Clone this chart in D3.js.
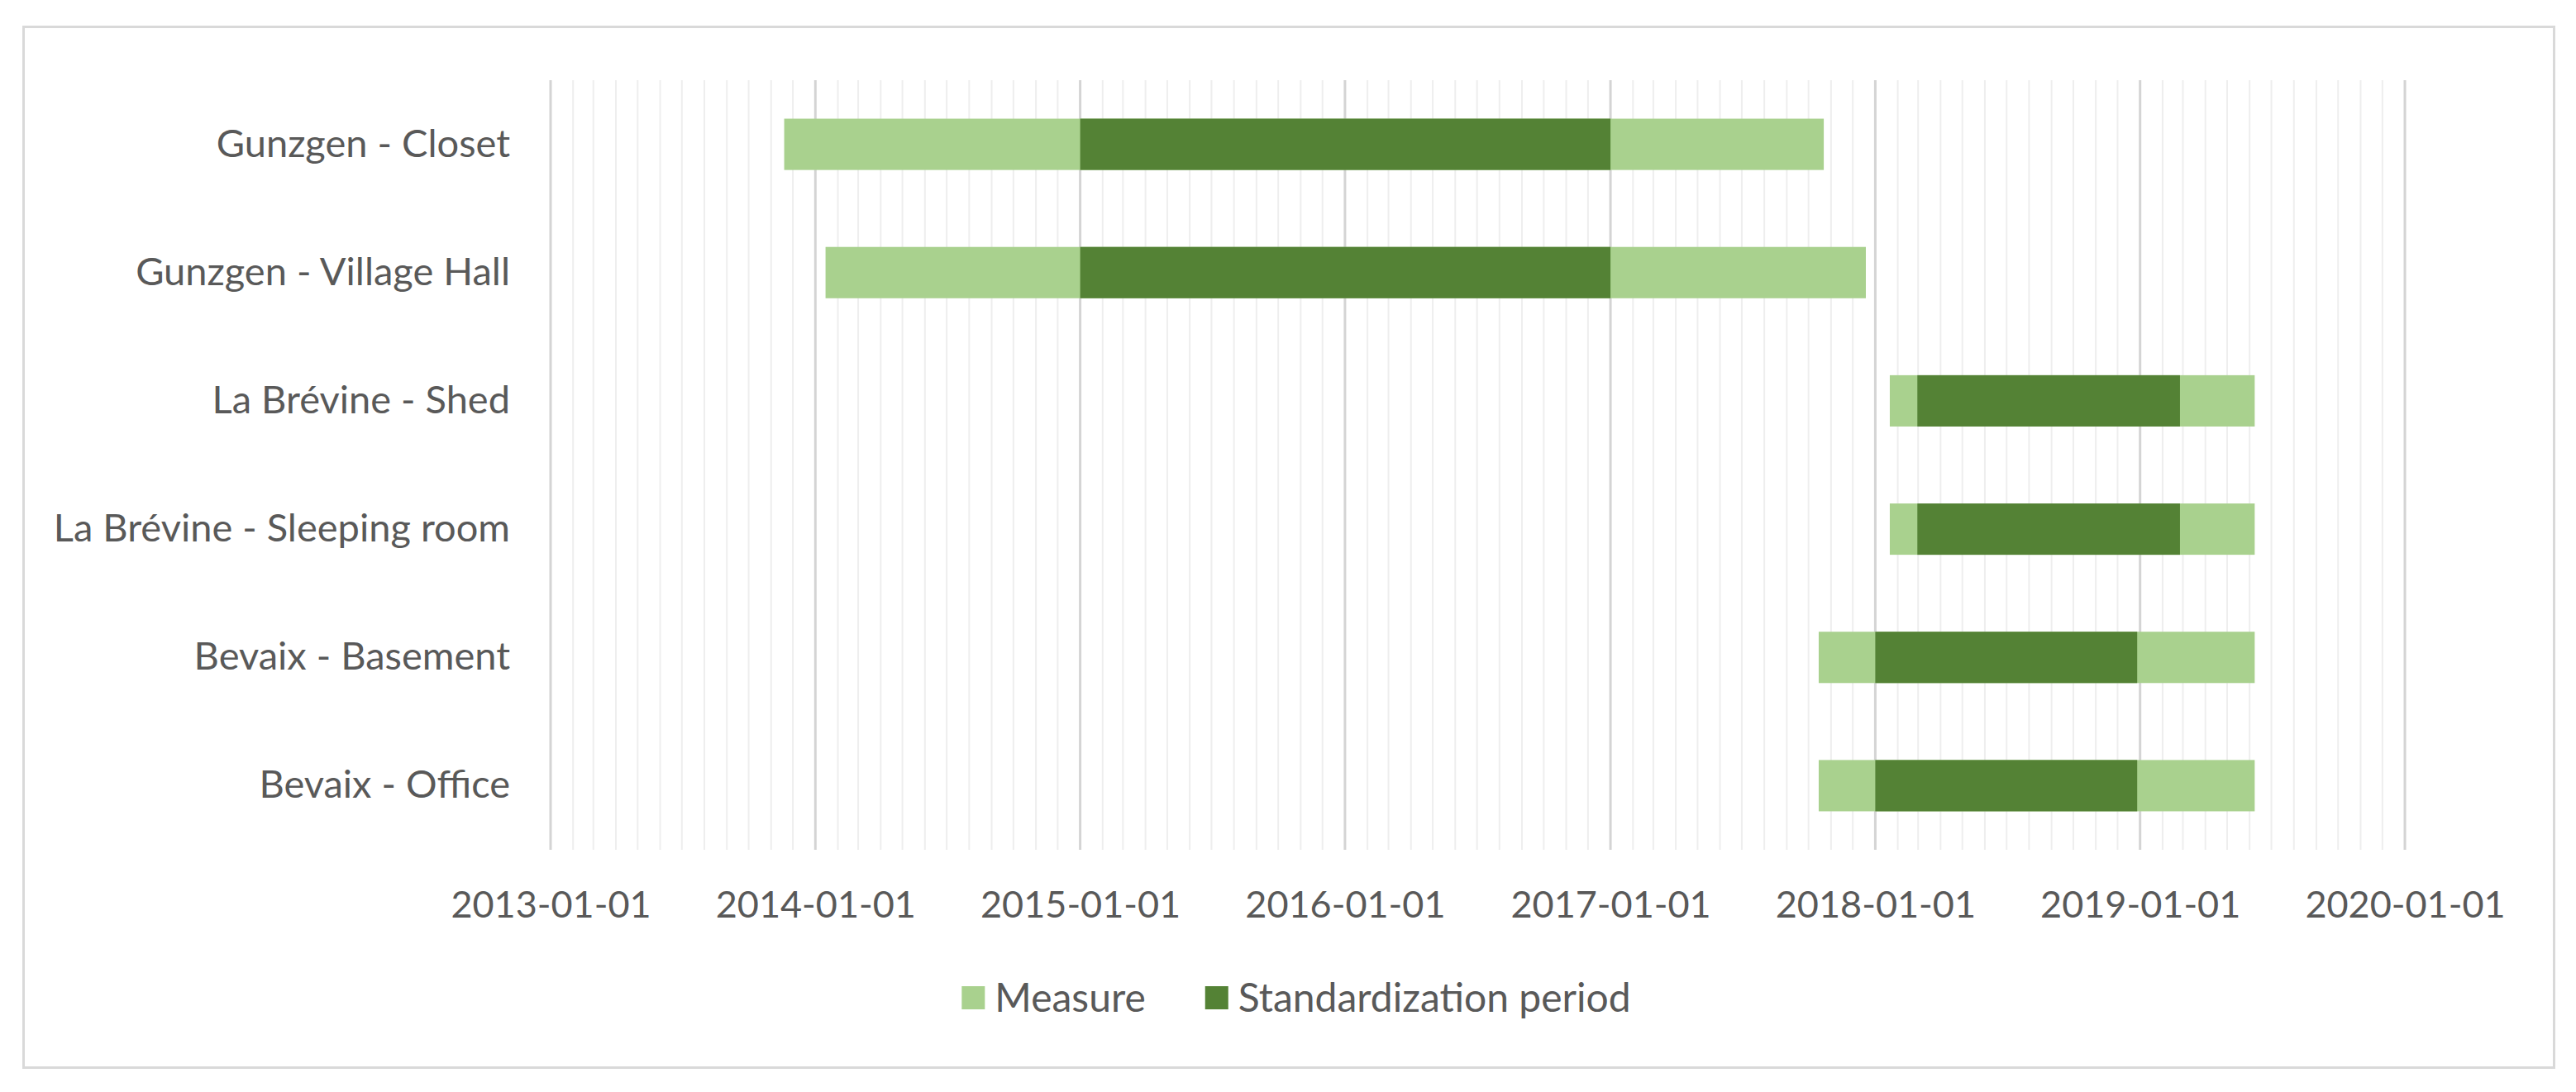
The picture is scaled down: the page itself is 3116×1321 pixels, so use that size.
<!DOCTYPE html>
<html>
<head>
<meta charset="utf-8">
<script src="https://cdn.jsdelivr.net/npm/d3@7/dist/d3.min.js"></script>
<style>
  html, body { margin: 0; padding: 0; background: #ffffff; }
  svg { display: block; }
  text { font-family: Lato, "Open Sans", sans-serif; fill: #595959; }
</style>
</head>
<body>
<script>
const categories = [
  "Gunzgen - Closet",
  "Gunzgen - Village Hall",
  "La Brévine - Shed",
  "La Brévine - Sleeping room",
  "Bevaix - Basement",
  "Bevaix - Office"
];
const measureStart  = ["2013-11-19", "2014-01-15", "2018-01-21", "2018-01-21", "2017-10-15", "2017-10-15"];
const standardStart = ["2015-01-01", "2015-01-01", "2018-02-28", "2018-02-28", "2018-01-01", "2018-01-01"];
const standardEnd   = ["2017-01-01", "2017-01-01", "2019-02-25", "2019-02-25", "2018-12-28", "2018-12-28"];
const measureEnd    = ["2017-10-22", "2017-12-19", "2019-06-08", "2019-06-08", "2019-06-08", "2019-06-08"];
const tickLabels = ["2013-01-01", "2014-01-01", "2015-01-01", "2016-01-01", "2017-01-01", "2018-01-01", "2019-01-01", "2020-01-01"];
const seriesNames = ["Measure", "Standardization period"];
const seriesColors = ["#A9D18E", "#548235"];

const W = 3116, H = 1321;
const parse = d3.utcParse("%Y-%m-%d");
const fmt = d3.utcFormat("%Y-%m-%d");

const svg = d3.select("body").append("svg").attr("width", W).attr("height", H);

// outer chart border
svg.append("rect")
  .attr("x", 28.5).attr("y", 32.5).attr("width", 3061).attr("height", 1259)
  .attr("fill", "#ffffff").attr("stroke", "#d9d9d9").attr("stroke-width", 3);

const plot = { left: 666, right: 2909, top: 97, bottom: 1028 };

const tickDates = tickLabels.map(parse);
const x = d3.scaleUtc()
  .domain([tickDates[0], tickDates[tickDates.length - 1]])
  .range([plot.left, plot.right]);

const y = d3.scaleBand()
  .domain(categories)
  .range([plot.top, plot.bottom])
  .paddingInner(0.6)
  .paddingOuter(0.3);

// minor (monthly) gridlines
const months = d3.utcMonth.range(tickDates[0], tickDates[tickDates.length - 1])
  .filter(d => d.getUTCMonth() !== 0);
svg.append("g").selectAll("line").data(months).join("line")
  .attr("x1", d => x(d)).attr("x2", d => x(d))
  .attr("y1", plot.top).attr("y2", plot.bottom)
  .attr("stroke", "#eeeeee").attr("stroke-width", 2);

// major (yearly) gridlines
svg.append("g").selectAll("line").data(tickDates).join("line")
  .attr("x1", d => x(d)).attr("x2", d => x(d))
  .attr("y1", plot.top).attr("y2", plot.bottom)
  .attr("stroke", "#d4d4d4").attr("stroke-width", 3);

// bars
const rows = categories.map((c, i) => ({
  cat: c,
  ms: parse(measureStart[i]), me: parse(measureEnd[i]),
  ss: parse(standardStart[i]), se: parse(standardEnd[i])
}));

svg.append("g").selectAll("rect").data(rows).join("rect")
  .attr("x", d => x(d.ms))
  .attr("width", d => x(d.me) - x(d.ms))
  .attr("y", d => y(d.cat))
  .attr("height", y.bandwidth())
  .attr("fill", seriesColors[0]);

svg.append("g").selectAll("rect").data(rows).join("rect")
  .attr("x", d => x(d.ss))
  .attr("width", d => x(d.se) - x(d.ss))
  .attr("y", d => y(d.cat))
  .attr("height", y.bandwidth())
  .attr("fill", seriesColors[1]);

// x axis labels
const xAxis = svg.append("g")
  .attr("transform", `translate(0,${plot.bottom})`)
  .call(d3.axisBottom(x).tickValues(tickDates).tickFormat(fmt).tickSize(0).tickPadding(50));
xAxis.select(".domain").remove();
xAxis.selectAll("text").attr("font-size", 45).attr("fill", "#595959")
  .style("font-family", "Lato, 'Open Sans', sans-serif");

// y axis labels
const yAxis = svg.append("g")
  .attr("transform", `translate(${plot.left},0)`)
  .call(d3.axisLeft(y).tickSize(0).tickPadding(49));
yAxis.select(".domain").remove();
yAxis.selectAll("text").attr("font-size", 47).attr("fill", "#595959")
  .style("font-family", "Lato, 'Open Sans', sans-serif");

// legend
const legendY = 1207;
const sw = 28;
const legend = svg.append("g");
const items = legend.selectAll("g").data(seriesNames).join("g");
items.append("rect")
  .attr("width", sw).attr("height", sw)
  .attr("y", legendY - sw / 2)
  .attr("fill", (d, i) => seriesColors[i]);
items.append("text")
  .attr("x", sw + 12)
  .attr("y", legendY)
  .attr("dy", "0.35em")
  .attr("font-size", 48)
  .text(d => d);
// layout items horizontally, centred on the chart
const gap = 72;
let widths = [];
items.each(function () { widths.push(this.getBBox().width); });
const total = d3.sum(widths) + gap * (widths.length - 1);
let cx = 1568 - total / 2;
items.attr("transform", (d, i) => {
  const t = `translate(${cx},0)`;
  cx += widths[i] + gap;
  return t;
});
</script>
</body>
</html>
